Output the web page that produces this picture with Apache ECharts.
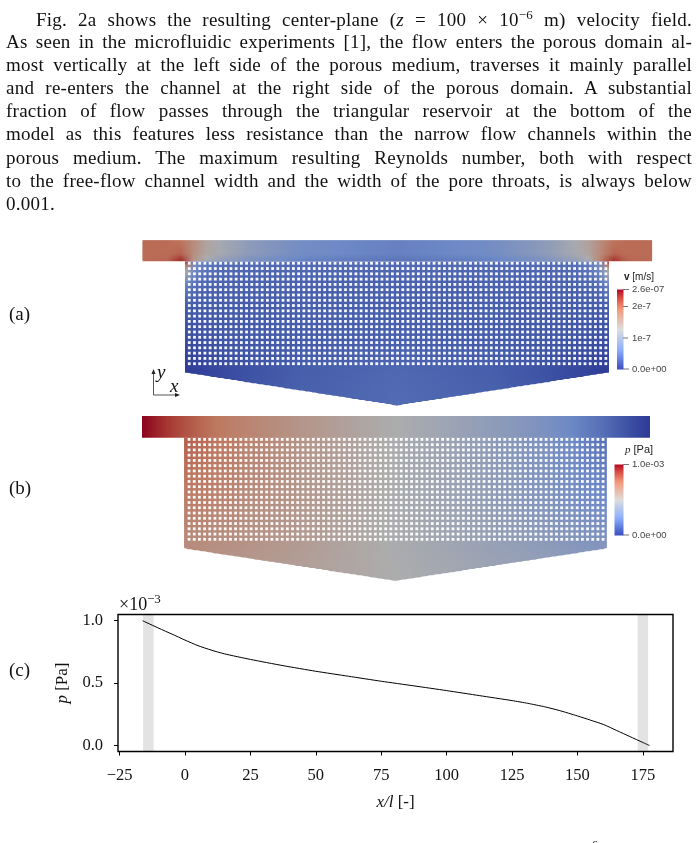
<!DOCTYPE html>
<html><head><meta charset="utf-8">
<script src="https://cdn.jsdelivr.net/npm/echarts@6/dist/echarts.min.js"></script>
<style>
html,body{margin:0;padding:0;background:#fff;width:699px;height:843px;overflow:hidden}
#c{position:absolute;left:0;top:0;width:699px;height:843px}
.l{position:absolute;left:6px;width:686px;font:19px/23px "Liberation Serif",serif;letter-spacing:.25px;color:#111;text-align:justify;text-align-last:justify;white-space:nowrap}
.l i{font-style:italic} .l sup{font-size:13px;line-height:0}
</style></head><body>
<div id="c"></div>
<div class="l" style="top:8px;left:36px;width:656px">Fig. 2a shows the resulting center-plane (<i>z</i> = 100 × 10<sup>−6</sup> m) velocity field.</div>
<div class="l" style="top:30px">As seen in the microfluidic experiments [1], the flow enters the porous domain al-</div>
<div class="l" style="top:53px">most vertically at the left side of the porous medium, traverses it mainly parallel</div>
<div class="l" style="top:76px">and re-enters the channel at the right side of the porous domain. A substantial</div>
<div class="l" style="top:99px">fraction of flow passes through the triangular reservoir at the bottom of the</div>
<div class="l" style="top:122px">model as this features less resistance than the narrow flow channels within the</div>
<div class="l" style="top:146px">porous medium. The maximum resulting Reynolds number, both with respect</div>
<div class="l" style="top:169px">to the free-flow channel width and the width of the pore throats, is always below</div>
<div class="l" style="top:192px;text-align-last:left">0.001.</div>
<div class="l" style="top:834px;left:592px;width:20px;font-size:12px;text-align-last:left">6</div>
<script>
// ---- panel (c): pressure along the centre line, in units of 1e-3 Pa
const lineX = [-16.2,-10,-5,0,5,10,15,25,37.5,50,62.5,75,87.5,100,112.5,125,131,137.5,143,150,155,160,165,170,175,177.5];
const lineP = [1.0,0.94,0.893,0.845,0.80,0.765,0.735,0.69,0.64,0.595,0.555,0.515,0.478,0.44,0.40,0.36,0.338,0.31,0.281,0.237,0.203,0.168,0.12,0.072,0.024,0];
const xTicks = [-25,0,25,50,75,100,125,150,175];
const yTicks = [0,0.5,1];
const bandLeft = [-16,-12];
const bandRight = [173,177];

// ---- colour map t -> rgb (legend colours); fields are shaded by a lighting factor
const cmapT = [0,0.1,0.25,0.5,0.75,0.9,1];
const cmapRGB = [[59,76,192],[88,118,218],[141,176,254],[221,221,221],[244,154,123],[215,75,65],[180,4,38]];
const shade = 0.78;

// ---- panel (a): normalised speed (v / 2.6e-7 m/s)
const vChannelX = [-16.2,-6,-3,-1,1,3,5,10,25,45,81,117,137,152,157,161,163,165,168,178.5];
const vChannelY = [50.6,45,42.4];
const vChannel = [
 [0.78,0.78,0.77,0.75,0.71,0.66,0.62,0.50,0.37,0.27,0.22,0.27,0.37,0.50,0.62,0.71,0.75,0.77,0.78,0.78],
 [0.78,0.78,0.79,0.80,0.75,0.66,0.60,0.50,0.37,0.27,0.22,0.27,0.37,0.50,0.60,0.75,0.80,0.79,0.78,0.78],
 [0.78,0.80,0.86,0.98,0.90,0.62,0.54,0.42,0.30,0.22,0.18,0.22,0.30,0.42,0.54,0.90,0.98,0.86,0.80,0.78]];
const vPorousX = [0,0.8,2,4,6,9,14,25,45,81,117,137,148,153,156,158,160,161.2,162];
const vPorousY = [42.4,39,33,25,12,0,-12.6];
const vPorous = [
 [0.95,0.55,0.40,0.30,0.25,0.20,0.17,0.16,0.15,0.15,0.15,0.16,0.17,0.20,0.25,0.30,0.40,0.55,0.95],
 [0.55,0.42,0.32,0.25,0.20,0.17,0.15,0.14,0.14,0.14,0.14,0.14,0.15,0.17,0.20,0.25,0.32,0.42,0.55],
 [0.22,0.20,0.18,0.16,0.14,0.13,0.12,0.12,0.12,0.12,0.12,0.12,0.12,0.13,0.14,0.16,0.18,0.20,0.22],
 [0.10,0.10,0.10,0.10,0.10,0.10,0.10,0.10,0.11,0.11,0.11,0.10,0.10,0.10,0.10,0.10,0.10,0.10,0.10],
 [0.05,0.05,0.06,0.06,0.07,0.07,0.08,0.09,0.10,0.11,0.10,0.09,0.08,0.07,0.07,0.06,0.06,0.05,0.05],
 [0.00,0.00,0.01,0.01,0.02,0.03,0.04,0.07,0.11,0.14,0.11,0.07,0.04,0.03,0.02,0.01,0.01,0.00,0.00],
 [0.03,0.03,0.03,0.03,0.04,0.05,0.06,0.09,0.12,0.15,0.12,0.09,0.06,0.05,0.04,0.03,0.03,0.03,0.03]];

// ---- panel (b): normalised pressure in the porous block (channel uses lineP)
const pPorousX = [0,10,25,50,81,112,137,150,162];
const pPorousY = [42.6,21,0,-12.4];
const pPorous = [
 [0.82,0.77,0.70,0.60,0.49,0.40,0.31,0.24,0.16],
 [0.74,0.71,0.66,0.59,0.49,0.41,0.33,0.28,0.24],
 [0.66,0.64,0.62,0.57,0.49,0.43,0.38,0.35,0.33],
 [0.60,0.60,0.58,0.55,0.50,0.45,0.42,0.40,0.38]];

// ---- domain outlines in x/l units (y measured from the bottom of the porous block)
const domainA = {chL:-16.2, chR:178.5, chTop:50.6, chBot:42.4, apex:-12.6};
const domainB = {chL:-16.2, chR:178.6, chTop:50.9, chBot:42.6, apex:-12.4};
const porousWidth = 162, apexX = 81;
const holeCount = {cols:81, rows:20};
const holesA = {x0:1.64, dx:1.99, y0:3.44, dy:2.02};
const holesB = {x0:1.84, dx:1.985, y0:3.6, dy:2.017};

function interp(xs,ys,x){
  if(x<=xs[0])return ys[0];
  for(let i=1;i<xs.length;i++){ if(x<=xs[i]){const f=(x-xs[i-1])/(xs[i]-xs[i-1]);return ys[i-1]+f*(ys[i]-ys[i-1]);} }
  return ys[ys.length-1];
}
function cmap(t,k){
  const c=[0,1,2].map(i=>Math.round(k*interp(cmapT,cmapRGB.map(r=>r[i]),t)));
  return 'rgb('+c.join(',')+')';
}
function tableAt(xs,ysDesc,table,x,y){
  const rowVals=table.map(r=>interp(xs,r,x));
  return interp(ysDesc.slice().reverse(),rowVals.slice().reverse(),y);
}
function strips(d){
  const out=[];
  const N=Math.round((d.chTop-d.chBot)/0.5);
  for(let i=0;i<N;i++){const a=d.chTop-i*0.5,b=Math.max(a-0.5,d.chBot);out.push([d.chL,a,d.chR,b,0,i>0?1:0]);}
  let first=true;
  for(let y=d.chBot;y>d.apex+0.001;y-=0.4){out.push([0,y,porousWidth,Math.max(y-0.4,d.apex),1,first?0:1]);first=false;}
  return out;
}
function fieldSeries(idx,d,chFn,poFn){
  const data=strips(d);
  return {type:'custom',xAxisIndex:idx,yAxisIndex:idx,silent:true,clip:false,z:2,data:data,
    renderItem:function(p,api){
      const x0=api.value(0),yT=api.value(1),x1=api.value(2),yB=api.value(3),kind=api.value(4),ext=api.value(5);
      const edge=y=>y>=0?0:(-y/(-d.apex))*apexX;
      let l0=x0,r0=x1,l1=x0,r1=x1;
      if(kind===1){l0=edge(yT);r0=porousWidth-edge(yT);l1=edge(yB);r1=porousWidth-edge(yB);}
      const yM=(yT+yB)/2, fn=kind===1?poFn:chFn;
      const xa=Math.min(l0,l1),xb=Math.max(r0,r1);
      const pa=api.coord([xa,yM]),pb=api.coord([Math.max(xb,xa+0.01),yM]);
      const stops=[];const M=40;
      for(let i=0;i<=M;i++){const x=xa+(xb-xa)*i/M;stops.push({offset:i/M,color:cmap(fn(x,yM),shade)});}
      const fill=new echarts.graphic.LinearGradient(pa[0],0,pb[0],0,stops,true);
      const A=api.coord([l0,yT]),B=api.coord([r0,yT]),C=api.coord([r1,yB]),D=api.coord([l1,yB]);
      // each strip reaches up under the previous, wider one so no anti-aliased seam shows
      const ov=ext?1.2:0;
      const poly=[[A[0],A[1]-ov],[B[0],B[1]-ov],C,D];
      return {type:'polygon',shape:{points:poly},style:{fill:fill,stroke:null}};
    }};
}
function holes(idx,h){
  const data=[];
  for(let r=0;r<holeCount.rows;r++)for(let c=0;c<holeCount.cols;c++)data.push([h.x0+c*h.dx,h.y0+r*h.dy]);
  return {type:'scatter',xAxisIndex:idx,yAxisIndex:idx,silent:true,z:5,symbol:'rect',symbolSize:2.8,
    itemStyle:{color:'#fff',opacity:0.96},data:data,large:false,animation:false};
}
const chart=echarts.init(document.getElementById('c'),null,{width:699,height:843});
const serif='"Liberation Serif",serif', sans='"Liberation Sans",sans-serif';
function legendStops(){const s=[];for(let i=0;i<=30;i++)s.push({offset:i/30,color:cmap(1-i/30,1)});return s;}
function txt(x,y,text,size,font,extra,pre){return {type:'text',x:x,y:y,silent:true,style:Object.assign({text:text,font:(pre?pre+' ':'')+size+'px '+font,fill:'#111',textVerticalAlign:'middle'},extra||{})};}
function ln(x1,y1,x2,y2,col,w){return {type:'line',silent:true,shape:{x1,y1,x2,y2},style:{stroke:col,lineWidth:w||1}};}
const graphic=[
  txt(9,315,'(a)',19,serif), txt(9,489,'(b)',19,serif), txt(9,671,'(c)',19,serif),
  // colour bar (a)
  {type:'rect',silent:true,shape:{x:617,y:289.5,width:6.5,height:80},style:{fill:new echarts.graphic.LinearGradient(0,0,0,1,legendStops())}},
  ln(623,289.5,629,289.5,'#777'),ln(623,306.5,628,306.5,'#777'),ln(623,338,628,338,'#777'),ln(623,369,629,369,'#777'),
  txt(632,289,'2.6e-07',9.5,sans,{fill:'#444'}),txt(632,306,'2e-7',9.5,sans,{fill:'#444'}),txt(632,338,'1e-7',9.5,sans,{fill:'#444'}),txt(632,369,'0.0e+00',9.5,sans,{fill:'#444'}),
  {type:'text',x:624,y:277,silent:true,style:{text:'{b|v} [m/s]',font:'10px '+sans,fill:'#222',textVerticalAlign:'middle',rich:{b:{font:'bold 10px '+sans,fill:'#222'}}}},
  // colour bar (b)
  {type:'rect',silent:true,shape:{x:614.5,y:464.5,width:9,height:71},style:{fill:new echarts.graphic.LinearGradient(0,0,0,1,legendStops())}},
  ln(623,464.5,629,464.5,'#777'),ln(623,535,629,535,'#777'),
  txt(632,464,'1.0e-03',9.5,sans,{fill:'#444'}),txt(632,535,'0.0e+00',9.5,sans,{fill:'#444'}),
  {type:'text',x:625,y:450,silent:true,style:{text:'{i|p} [Pa]',font:'11px '+sans,fill:'#222',textVerticalAlign:'middle',rich:{i:{font:'italic 11px '+serif,fill:'#222'}}}},
  // coordinate triad
  ln(153.5,395,153.5,372,'#555'),ln(153.5,395,178,395,'#555'),
  {type:'polygon',silent:true,shape:{points:[[153.5,369],[151.5,374],[155.5,374]]},style:{fill:'#222'}},
  {type:'polygon',silent:true,shape:{points:[[180,395],[175,393],[175,397]]},style:{fill:'#222'}},
  txt(157,373,'y',19,serif,null,'italic'),txt(170,387,'x',19,serif,null,'italic'),
  // axis multiplier
  txt(119,605,'×10',18,serif),txt(147,600,'−3',13,serif)
];
const mainX=[-25.6,186.5];
chart.setOption({
  animation:false,
  grid:[
    {left:118,top:614.5,width:555,height:137,show:true,borderColor:'#000',borderWidth:1.4,backgroundColor:'transparent',containLabel:false,z:6},
    {left:118,top:235,width:555,height:175,show:false},
    {left:117.5,top:410,width:553,height:175,show:false}
  ],
  xAxis:[
    {gridIndex:0,type:'value',min:mainX[0],max:mainX[1],splitLine:{show:false},axisLine:{show:false,onZero:false},
      axisTick:{show:true,length:4,customValues:xTicks,lineStyle:{color:'#000',width:1},inside:false},
      axisLabel:{customValues:xTicks,margin:16,color:'#111',fontFamily:serif,fontSize:16.5,formatter:v=>String(v).replace('-','−')},
      name:'{i|x/l} [-]',nameLocation:'middle',nameGap:43,
      nameTextStyle:{color:'#111',fontFamily:serif,fontSize:17,rich:{i:{fontFamily:serif,fontStyle:'italic',fontSize:17,color:'#111'}}}},
    {gridIndex:1,type:'value',show:false,min:mainX[0],max:mainX[1]},
    {gridIndex:2,type:'value',show:false,min:mainX[0],max:mainX[1]}
  ],
  yAxis:[
    {gridIndex:0,type:'value',min:-0.048,max:1.05,splitLine:{show:false},axisLine:{show:false,onZero:false},
      axisTick:{show:true,length:4,customValues:yTicks,lineStyle:{color:'#000',width:1}},
      axisLabel:{customValues:yTicks,margin:15,color:'#111',fontFamily:serif,fontSize:16.5,formatter:v=>v.toFixed(1)},
      name:'{i|p} [Pa]',nameLocation:'middle',nameGap:45,nameRotate:90,
      nameTextStyle:{color:'#111',fontFamily:serif,fontSize:17,rich:{i:{fontFamily:serif,fontStyle:'italic',fontSize:17,color:'#111'}}}},
    {gridIndex:1,type:'value',show:false,min:-14.25,max:52.62},
    {gridIndex:2,type:'value',show:false,min:-13.92,max:53.2}
  ],
  graphic:graphic,
  series:[
    {type:'line',xAxisIndex:0,yAxisIndex:0,data:lineX.map((x,i)=>[x,lineP[i]]),showSymbol:false,symbol:'none',smooth:0.2,z:4,silent:true,
      lineStyle:{color:'#000',width:1},
      markArea:{silent:true,itemStyle:{color:'#e3e3e3'},data:[[{xAxis:bandLeft[0]},{xAxis:bandLeft[1]}],[{xAxis:bandRight[0]},{xAxis:bandRight[1]}]]}},
    fieldSeries(1,domainA,(x,y)=>tableAt(vChannelX,vChannelY,vChannel,x,y),(x,y)=>tableAt(vPorousX,vPorousY,vPorous,x,y)),
    holes(1,holesA),
    fieldSeries(2,domainB,(x,y)=>interp(lineX,lineP,x),(x,y)=>tableAt(pPorousX,pPorousY,pPorous,x,y)),
    holes(2,holesB)
  ]
});
</script>
</body></html>
